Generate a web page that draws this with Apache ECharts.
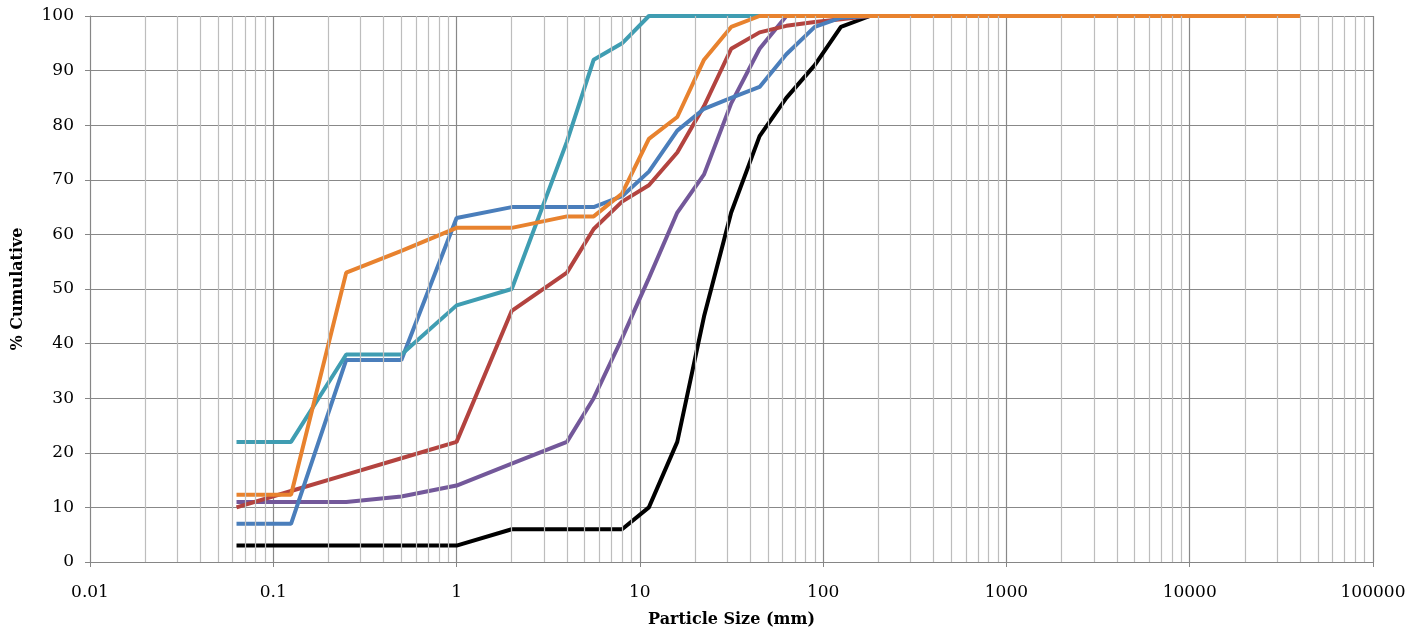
<!DOCTYPE html>
<html>
<head>
<meta charset="utf-8">
<script src="https://cdn.jsdelivr.net/npm/echarts@6/dist/echarts.min.js"></script>
<style>
  html, body { margin: 0; padding: 0; background: #fff; }
  #chart { width: 1424px; height: 633px; }
</style>
</head>
<body>
<div id="chart"></div>
<script>
// sieve sizes (mm)
var sizes = [0.063, 0.125, 0.25, 0.5, 1, 2, 4, 5.6, 8, 11.2, 16, 22.4, 31.5, 45, 63, 90, 125, 180, 40000];

// % cumulative passing for each sample
var black  = [3, 3, 3, 3, 3, 6, 6, 6, 6, 10, 22, 45, 64, 78, 85, 91, 98, 100, 100];
var red    = [10, 13, 16, 19, 22, 46, 53, 61, 66, 69, 75, 83.5, 94, 97, 98.2, 98.9, 99.4, 100, 100];
var purple = [11, 11, 11, 12, 14, 18, 22, 30, 41, 52, 64, 71, 84, 94, 100, 100, 100, 100, 100];
var blue   = [7, 7, 37, 37, 63, 65, 65, 65, 67, 71.5, 79, 83, 85, 87, 93, 98, 99.7, 100, 100];
var teal   = [22, 22, 38, 38, 47, 50, 77, 92, 95, 100, 100, 100, 100, 100, 100, 100, 100, 100, 100];
var orange = [12.3, 12.3, 53, 57, 61.2, 61.2, 63.3, 63.3, 67.5, 77.5, 81.5, 92, 98, 100, 100, 100, 100, 100, 100];

// minor log gridlines 2..9 in each decade
var minorLines = [];
for (var d = -2; d < 5; d++) {
  for (var k = 2; k < 10; k++) {
    minorLines.push(+(k * Math.pow(10, d)).toPrecision(3));
  }
}

function pairs(vals) {
  return sizes.map(function (s, i) { return [s, vals[i]]; });
}

var chart = echarts.init(document.getElementById('chart'));

var lineSeries = function (name, vals, color) {
  return {
    name: name,
    type: 'line',
    data: pairs(vals),
    symbol: 'none',
    z: 3,
    lineStyle: { color: color, width: 4 },
    itemStyle: { color: color }
  };
};

var option = {
  animation: false,
  grid: { left: 90, right: 51, top: 16, bottom: 71 },
  xAxis: {
    type: 'log',
    logBase: 10,
    min: 0.01,
    max: 100000,
    name: 'Particle Size (mm)',
    nameLocation: 'middle',
    nameGap: 50,
    nameTextStyle: { fontFamily: 'DejaVu Serif', fontWeight: 'bold', fontSize: 16, color: '#000' },
    axisLine: { lineStyle: { color: '#868686', width: 1 } },
    axisTick: { show: true, inside: false, length: 5, lineStyle: { color: '#868686' } },
    axisLabel: {
      fontFamily: 'DejaVu Serif', fontSize: 17, color: '#000', margin: 22,
      formatter: function (v) { return String(+v.toPrecision(6)); }
    },
    splitLine: { show: true, lineStyle: { color: '#888888', width: 1.2 } }
  },
  yAxis: {
    type: 'value',
    min: 0,
    max: 100,
    interval: 10,
    name: '% Cumulative',
    nameLocation: 'middle',
    nameGap: 64,
    nameTextStyle: { fontFamily: 'DejaVu Serif', fontWeight: 'bold', fontSize: 16, color: '#000' },
    axisLine: { show: true, lineStyle: { color: '#868686', width: 1 } },
    axisTick: { show: true, length: 5, lineStyle: { color: '#868686' } },
    axisLabel: { fontFamily: 'DejaVu Serif', fontSize: 17, color: '#000', margin: 16 },
    splitLine: { show: true, lineStyle: { color: '#888888', width: 1.2 } }
  },
  series: [
    {
      name: 'grid',
      type: 'line',
      data: [],
      z: 1,
      silent: true,
      markLine: {
        silent: true,
        symbol: 'none',
        animation: false,
        label: { show: false },
        lineStyle: { color: '#bdbdbd', width: 1.2, type: 'solid' },
        data: minorLines.map(function (v) { return { xAxis: v }; })
      }
    },
    lineSeries('S6', black, '#000000'),
    lineSeries('S3', purple, '#73589A'),
    lineSeries('S2', red, '#B3433F'),
    lineSeries('S1', blue, '#4A7EBB'),
    lineSeries('S4', teal, '#3F9DB2'),
    lineSeries('S5', orange, '#E8822E')
  ]
};

chart.setOption(option);
</script>
</body>
</html>
